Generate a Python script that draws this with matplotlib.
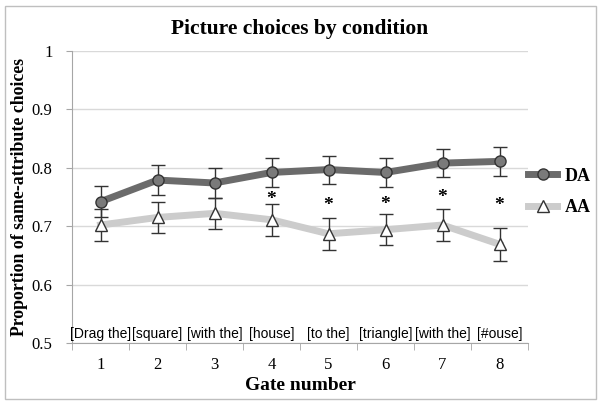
import matplotlib
matplotlib.use('Agg')
import matplotlib.pyplot as plt
from matplotlib.patches import Rectangle
from matplotlib.ticker import FixedLocator

plt.rcParams['font.family'] = ['Liberation Serif', 'DejaVu Serif']

gates = [1, 2, 3, 4, 5, 6, 7, 8]
words = ['[Drag the]', '[square]', '[with the]', '[house]', '[to the]',
         '[triangle]', '[with the]', '[#ouse]']
da_mean = [0.742, 0.779, 0.774, 0.792, 0.797, 0.792, 0.808, 0.811]
da_err = [0.026, 0.025, 0.026, 0.025, 0.024, 0.025, 0.024, 0.025]
aa_mean = [0.702, 0.715, 0.722, 0.711, 0.687, 0.694, 0.702, 0.669]
aa_err = [0.027, 0.027, 0.027, 0.027, 0.027, 0.027, 0.027, 0.028]
star_gates = [4, 5, 6, 7, 8]
star_y = [0.746, 0.736, 0.737, 0.749, 0.736]

fig = plt.figure(figsize=(6.02, 4.05), dpi=100)
ax = fig.add_axes([72 / 602, 1 - 343 / 405, (528 - 72) / 602, (343 - 51) / 405])

ax.errorbar(gates, da_mean, yerr=da_err, color='#6b6b6b', lw=5, marker='o',
            ms=8, mfc='#7a7a7a', mec='#333333', mew=1, ecolor='#333333',
            elinewidth=1, capsize=5, capthick=1, label='DA', zorder=3)
ax.errorbar(gates, aa_mean, yerr=aa_err, color='#cccccc', lw=5, marker='^',
            ms=8, mfc='white', mec='#333333', mew=1, ecolor='#333333',
            elinewidth=1, capsize=5, capthick=1, label='AA', zorder=2)

for g, y in zip(star_gates, star_y):
    ax.text(g, y, '*', ha='center', va='center', fontsize=14, fontweight='bold')

for g, w in zip(gates, words):
    ax.text(g, 0.503, w, ha='center', va='bottom', fontsize=10,
            family=['Liberation Sans', 'DejaVu Sans'])

ax.set_xlim(0.5, 8.5)
ax.set_ylim(0.5, 1.0)
ax.set_yticks([0.5, 0.6, 0.7, 0.8, 0.9, 1.0])
ax.set_yticklabels(['0.5', '0.6', '0.7', '0.8', '0.9', '1'])
ax.set_xticks(gates)
ax.xaxis.set_minor_locator(FixedLocator([x + 0.5 for x in range(0, 9)]))
ax.tick_params(axis='x', which='major', length=0, pad=10, labelsize=12)
ax.tick_params(axis='x', which='minor', length=5, color='#a6a6a6', direction='out')
ax.tick_params(axis='y', length=4, color='#a6a6a6', pad=10, labelsize=12)
ax.grid(axis='y', color='#d9d9d9', lw=1)
ax.set_axisbelow(True)
for side in ['top', 'right']:
    ax.spines[side].set_visible(False)
for side in ['left', 'bottom']:
    ax.spines[side].set_color('#a6a6a6')

ax.set_xlabel('Gate number', fontsize=14, fontweight='bold', labelpad=3)
ax.set_ylabel('Proportion of same-attribute choices', fontsize=12.8,
              fontweight='bold', labelpad=3)
ax.set_title('Picture choices by condition', fontsize=15.5, fontweight='bold', pad=12)

handles, labels = ax.get_legend_handles_labels()
handles = [h[0] for h in handles]
fig.legend(handles, labels, loc='center left', bbox_to_anchor=(512 / 602, 1 - 192 / 405),
           frameon=False, handlelength=1.6, handletextpad=0.4, labelspacing=0.8,
           prop={'weight': 'bold', 'size': 13})

fig.patches.append(Rectangle((5 / 602, 6 / 405), 591 / 602, 393 / 405,
                             transform=fig.transFigure, fill=False,
                             edgecolor='#bfbfbf', lw=1))

fig.savefig('out.png', dpi=100)
